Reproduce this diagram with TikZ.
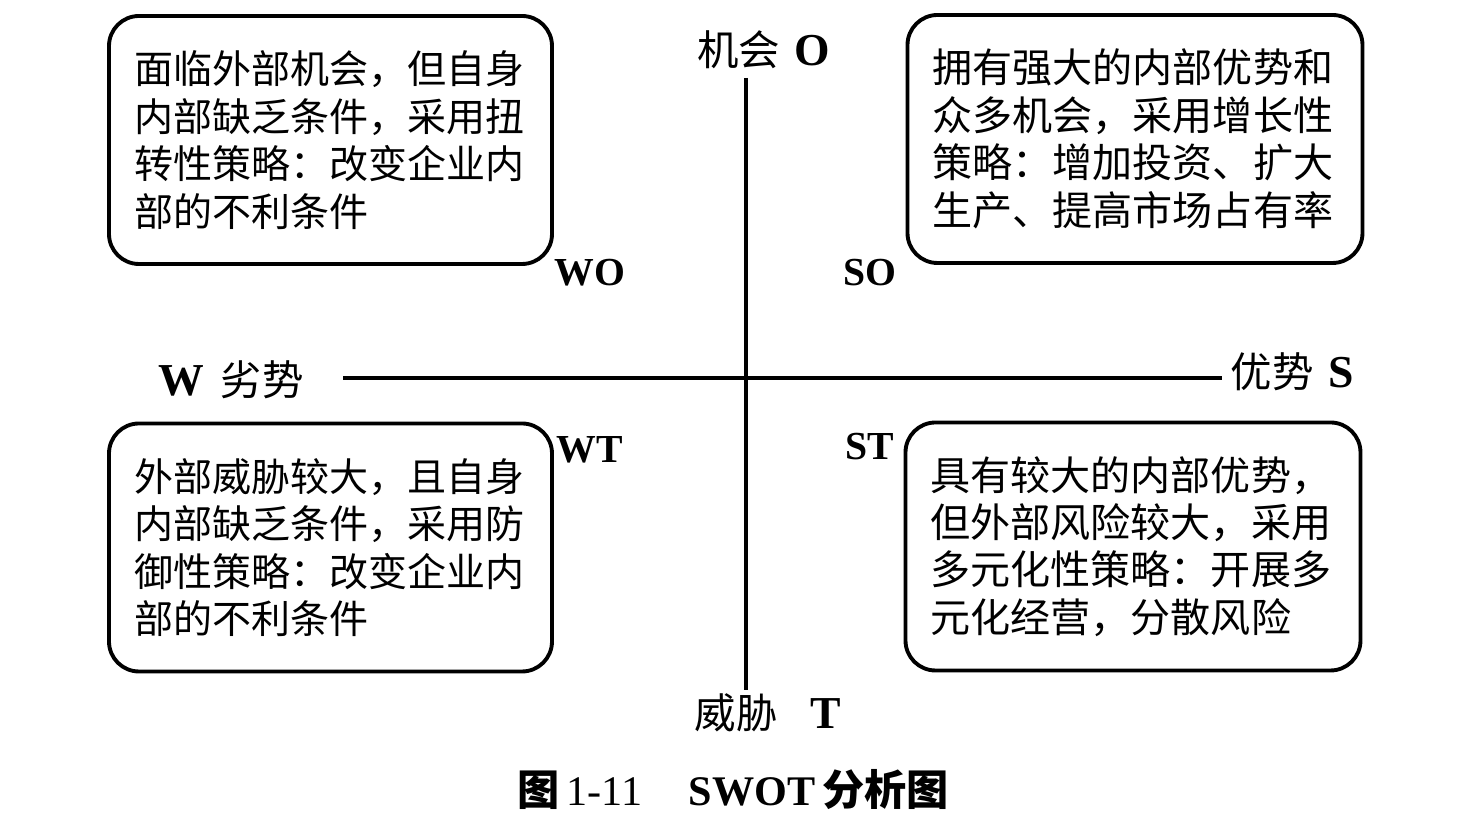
\documentclass[tikz,border=0pt]{standalone}
\usepackage{fontspec}
\setmainfont{Liberation Serif}
\newfontfamily\cjk{Noto Sans CJK SC}
\usepackage{tikz}
\usetikzlibrary{positioning}

\begin{document}
\begin{tikzpicture}[
    box/.style={draw, line width=1.1pt, rounded corners=0.3cm, align=left,
      text width=3.93cm, inner xsep=0.25cm, minimum height=2.48cm,
      font=\cjk\fontsize{11.1}{13.5}\selectfont},
    lab/.style={inner sep=0pt, font=\cjk\fontsize{11.8}{13}\selectfont},
    tag/.style={inner sep=0pt, font=\fontsize{11.3}{12}\selectfont\bfseries}
  ]
    \useasboundingbox (0,0) rectangle (14.74,8.29);

    % four strategy boxes
    \node[box] (wo) at (3.305, 6.89) {面临外部机会，但自身\\内部缺乏条件，采用扭\\转性策略：改变企业内\\部的不利条件};
    \node[box, text width=4.05cm, font=\cjk\fontsize{11.4}{13.5}\selectfont] (so) at (11.35, 6.90) {拥有强大的内部优势和\\众多机会，采用增长性\\策略：增加投资、扩大\\生产、提高市场占有率};
    \node[box] (wt) at (3.305, 2.815) {外部威胁较大，且自身\\内部缺乏条件，采用防\\御性策略：改变企业内\\部的不利条件};
    \node[box, text width=4.05cm, font=\cjk\fontsize{11.4}{13.5}\selectfont] (st) at (11.33, 2.825) {具有较大的内部优势，\\但外部风险较大，采用\\多元化性策略：开展多\\元化经营，分散风险};

    % axes
    \coordinate (otop) at (7.46, 7.51);
    \coordinate (tbot) at (7.46, 1.39);
    \coordinate (wend) at (3.43, 4.51);
    \coordinate (send) at (12.22, 4.51);
    \draw[line width=1pt] (otop) -- (tbot);
    \draw[line width=1pt] (wend) -- (send);

    % axis labels
    \node[lab] (o) at (7.64, 7.79) {机会\hspace{0.35em}\textrm{\bfseries\fontsize{13}{14}\selectfont O}};
    \node[lab] (t) at (7.68, 1.16) {威胁\hspace{0.8em}\textrm{\bfseries\fontsize{13}{14}\selectfont T}};
    \node[lab] (w) at (2.31, 4.49) {\textrm{\bfseries\fontsize{13}{14}\selectfont W}\hspace{0.4em}劣势};
    \node[lab] (s) at (12.92, 4.57) {优势\hspace{0.35em}\textrm{\bfseries\fontsize{13}{14}\selectfont S}};

    % quadrant tags
    \node[tag] (wotag) at (5.90, 5.56) {WO};
    \node[tag] (sotag) at (8.70, 5.56) {SO};
    \node[tag] (wttag) at (5.90, 3.79) {WT};
    \node[tag] (sttag) at (8.70, 3.82) {ST};

    % caption
    \node[inner sep=0pt, font=\cjk\bfseries\fontsize{12}{14}\selectfont] (cap) at (7.33, 0.39)
      {图\,\textrm{\mdseries 1-11}\hspace{1.1em}\textrm{SWOT}\,分析图};
  \end{tikzpicture}
\end{document}
